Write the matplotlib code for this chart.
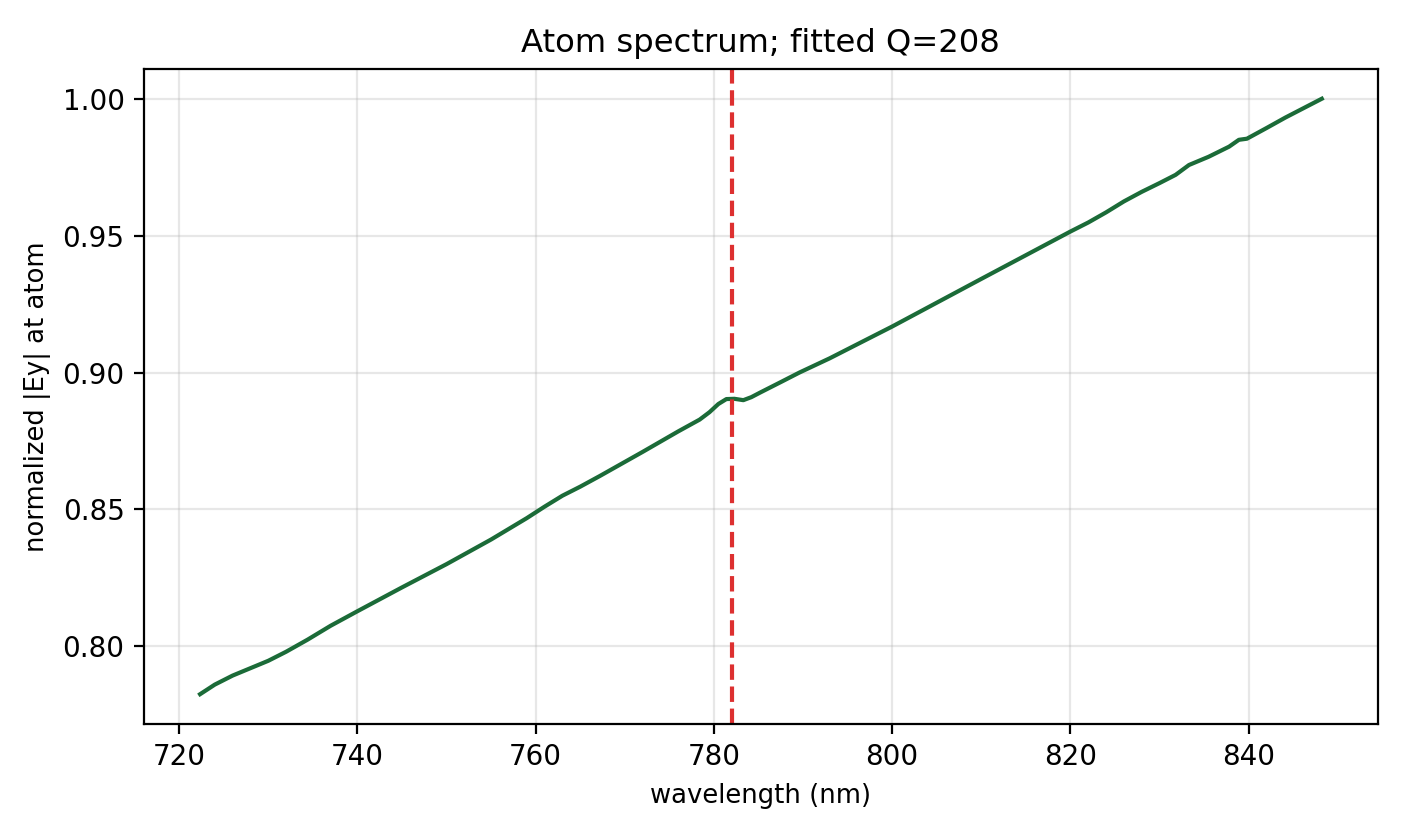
import numpy as np
import matplotlib.pyplot as plt

# wavelength (nm) and normalized |Ey|
wl = [722.35, 724.0, 726.0, 728.0, 730.0, 732.0, 734.4, 737.0, 740.0,
      745.0, 750.0, 755.0, 759.0, 761.0, 763.0, 765.0, 767.2, 772.0,
      776.0, 778.4, 779.5, 780.5, 781.4, 782.3, 783.3, 784.2, 785.2,
      787.5, 789.6, 793.0, 797.1, 800.0, 810.0, 820.0, 822.0, 824.0,
      826.0, 828.0, 830.0, 831.8, 833.3, 835.5, 837.8, 838.9, 839.8,
      842.0, 844.1, 846.0, 848.2]
ey = [0.7825, 0.7860, 0.7893, 0.7920, 0.7947, 0.7980, 0.8024, 0.8075, 0.8128,
      0.8215, 0.8300, 0.8390, 0.8468, 0.8510, 0.8550, 0.8583, 0.8622, 0.8710,
      0.8785, 0.8828, 0.8855, 0.8885, 0.8903, 0.8904, 0.8899, 0.8910, 0.8927,
      0.8965, 0.9000, 0.9052, 0.9120, 0.9168, 0.9342, 0.9515, 0.9548, 0.9585,
      0.9625, 0.9660, 0.9692, 0.9722, 0.9758, 0.9788, 0.9825, 0.9850, 0.9854,
      0.9893, 0.9931, 0.9963, 1.0000]
atom_wl = 782.0
q_fit = 208

fig, ax = plt.subplots(figsize=(7.03, 4.18), dpi=200)
ax.plot(wl, ey, color='#1b6b38', lw=1.5)
ax.axvline(atom_wl, color='#dd3030', ls='--', lw=1.5)
ax.grid(alpha=0.3)
ax.set_title('Atom spectrum; fitted Q=%d' % q_fit, fontsize=11.6)
ax.set_xlabel('wavelength (nm)', fontsize=9.3)
ax.set_ylabel('normalized |Ey| at atom', fontsize=9.3)
ax.set_xticks([720, 740, 760, 780, 800, 820, 840])
ax.set_yticks([0.80, 0.85, 0.90, 0.95, 1.00])
fig.subplots_adjust(left=0.1024, right=0.980, top=0.9175, bottom=0.134)
plt.savefig('out.png')
